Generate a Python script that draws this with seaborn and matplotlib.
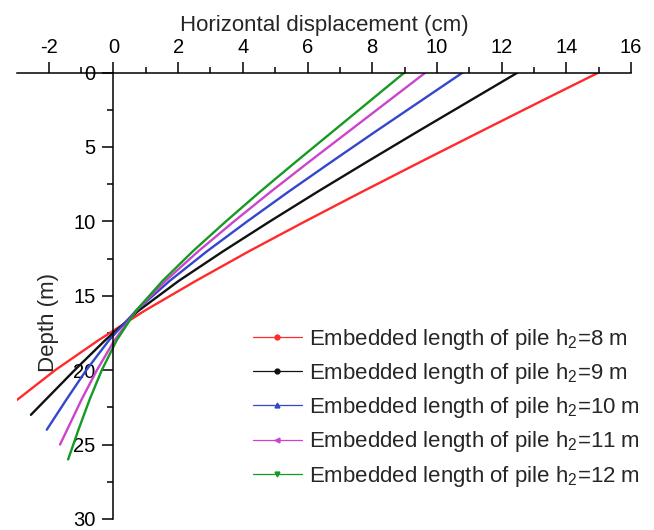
import matplotlib
matplotlib.use("Agg")
import matplotlib.pyplot as plt
from matplotlib.lines import Line2D
from matplotlib.ticker import MultipleLocator
import numpy as np
import pandas as pd
import seaborn as sns

# Pile deflection profiles: depth (m) and horizontal displacement (cm)
depth_h8 = [0, 2, 4, 6, 8, 10, 12, 14, 16, 18, 20, 22]
disp_h8 = [15.0, 13.15, 11.32, 9.50, 7.70, 5.93, 4.20, 2.55, 0.97, -0.47, -1.80, -2.98]

depth_h9 = [0, 2, 4, 6, 8, 10, 12, 14, 16, 18, 20, 22, 23]
disp_h9 = [12.5, 10.94, 9.38, 7.84, 6.32, 4.84, 3.40, 2.02, 0.78, -0.26, -1.20, -2.10, -2.55]

depth_h10 = [0, 2, 4, 6, 8, 10, 12, 14, 16, 18, 20, 22, 24]
disp_h10 = [10.8, 9.44, 8.08, 6.74, 5.42, 4.14, 2.90, 1.74, 0.70, -0.14, -0.84, -1.46, -2.06]

depth_h11 = [0, 2, 4, 6, 8, 10, 12, 14, 16, 18, 20, 22, 24, 25]
disp_h11 = [9.65, 8.45, 7.25, 6.05, 4.87, 3.73, 2.63, 1.61, 0.71, 0.03, -0.51, -0.99, -1.43, -1.65]

depth_h12 = [0, 2, 4, 6, 8, 10, 12, 14, 16, 18, 20, 22, 24, 26]
disp_h12 = [9.0, 7.88, 6.76, 5.64, 4.54, 3.48, 2.46, 1.52, 0.70, 0.10, -0.36, -0.74, -1.08, -1.40]

series_labels = [
    "Embedded length of pile h$_2$=8 m",
    "Embedded length of pile h$_2$=9 m",
    "Embedded length of pile h$_2$=10 m",
    "Embedded length of pile h$_2$=11 m",
    "Embedded length of pile h$_2$=12 m",
]
x_ticks = [-2, 0, 2, 4, 6, 8, 10, 12, 14, 16]
y_ticks = [0, 5, 10, 15, 20, 25, 30]

colors = ["#ff2a2a", "#111111", "#3346cc", "#cc44cc", "#159a22"]
markers = ["o", "o", "^", "<", "v"]

depths = [depth_h8, depth_h9, depth_h10, depth_h11, depth_h12]
disps = [disp_h8, disp_h9, disp_h10, disp_h11, disp_h12]
frames = []
for lab, d, x in zip(series_labels, depths, disps):
    frames.append(pd.DataFrame({"depth": d, "disp": x, "series": lab}))
df = pd.concat(frames, ignore_index=True)

sns.set_theme(style="ticks")
plt.rcParams["font.family"] = ["Liberation Sans", "DejaVu Sans"]
plt.rcParams["mathtext.default"] = "regular"
plt.rcParams["axes.unicode_minus"] = False

fig = plt.figure(figsize=(6.54, 5.30), dpi=100)
ax = fig.add_axes([17 / 654, 11 / 530, 614 / 654, 446.5 / 530])

sns.lineplot(data=df, x="disp", y="depth", hue="series", hue_order=series_labels,
             palette=colors, sort=False, estimator=None, lw=1.7, legend=False, ax=ax)

ax.set_xlim(-2.98, 16)
ax.set_ylim(30, 0)

ax.spines["right"].set_visible(False)
ax.spines["bottom"].set_visible(False)
ax.spines["left"].set_position(("data", 0))
for s in ("top", "left"):
    ax.spines[s].set_color("black")
    ax.spines[s].set_linewidth(1.1)

ax.xaxis.tick_top()
ax.xaxis.set_label_position("top")
ax.set_xticks(x_ticks)
ax.set_yticks(y_ticks)
ax.xaxis.set_minor_locator(MultipleLocator(1))
ax.yaxis.set_minor_locator(MultipleLocator(2.5))
ax.tick_params(which="major", direction="out", length=8, width=1.1, colors="black",
               labelsize=14.5, pad=3)
ax.tick_params(which="minor", direction="out", length=4, width=1.1, colors="black")
ax.tick_params(axis="y", which="major", pad=5)

ax.set_xlabel("Horizontal displacement (cm)", fontsize=16)
ax.xaxis.set_label_coords(0.50, 1.094)
ax.set_ylabel("Depth (m)", fontsize=16)
ax.yaxis.set_label_coords(0.068, 0.44)

handles = [Line2D([], [], color=c, lw=0.9, marker=m, markersize=3.5)
           for c, m in zip(colors, markers)]
ax.legend(handles, series_labels, loc="upper left", bbox_to_anchor=(236 / 614, 1 - 254 / 446.5),
          frameon=False, fontsize=16, handlelength=2.2, handletextpad=0.3,
          labelspacing=0.42, borderpad=0, borderaxespad=0)

fig.savefig("out.png", dpi=100)
